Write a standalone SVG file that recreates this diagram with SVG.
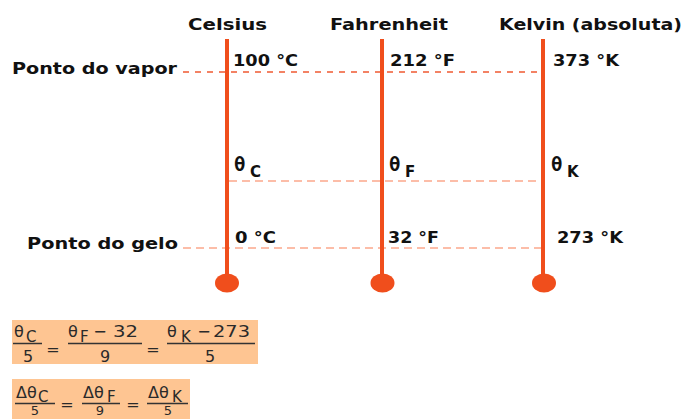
<svg xmlns="http://www.w3.org/2000/svg" width="685" height="419" viewBox="0 0 685 419">
<style>
.lbl{font-family:"DejaVu Sans","Verdana",sans-serif;font-weight:bold;font-size:15px;fill:#111;}
.th{font-family:"DejaVu Sans Mono",monospace;font-weight:bold;font-size:19px;fill:#111;}
.sub{font-family:"DejaVu Sans",sans-serif;font-weight:bold;font-size:15px;fill:#111;}
.f{font-family:"DejaVu Sans",sans-serif;font-size:16px;fill:#2a2a2a;}
.fs{font-family:"DejaVu Sans",sans-serif;font-size:15px;fill:#2a2a2a;}
.fd{font-family:"DejaVu Sans",sans-serif;font-size:13px;fill:#2a2a2a;}
.tube{stroke:#f04e1c;stroke-width:4;fill:none;}
.bulb{fill:#f04e1c;}
.d1{stroke:#ef5a32;stroke-width:1.5;stroke-dasharray:6 6;fill:none;}
.d2{stroke:#fba88c;stroke-width:1.5;stroke-dasharray:8 5;fill:none;}
.fl{stroke:#333;stroke-width:1.5;}
.box{fill:#fec592;}
</style>
<rect width="685" height="419" fill="#fff"/>
<g id="connectors">
<line class="d1" x1="183" y1="72" x2="543" y2="72"/>
<line class="d2" x1="229" y1="181" x2="543" y2="181"/>
<line class="d2" x1="183" y1="248" x2="543" y2="248"/>
</g>
<g id="celsius">
<line class="tube" x1="227" y1="39" x2="227" y2="280"/>
<ellipse class="bulb" cx="227" cy="283" rx="12" ry="9.5"/>
<text class="lbl" x="188" y="30" textLength="79" lengthAdjust="spacingAndGlyphs">Celsius</text>
<text class="lbl" x="233" y="66" textLength="65" lengthAdjust="spacingAndGlyphs">100 °C</text>
<text class="th" x="234" y="171">θ</text><text class="sub" x="250" y="177">C</text>
<text class="lbl" x="235" y="243" textLength="41" lengthAdjust="spacingAndGlyphs">0 °C</text>
</g>
<g id="fahrenheit">
<line class="tube" x1="382" y1="39" x2="382" y2="280"/>
<ellipse class="bulb" cx="382.5" cy="283" rx="12" ry="9.5"/>
<text class="lbl" x="330" y="30" textLength="118" lengthAdjust="spacingAndGlyphs">Fahrenheit</text>
<text class="lbl" x="390" y="66" textLength="65" lengthAdjust="spacingAndGlyphs">212 °F</text>
<text class="th" x="389" y="171">θ</text><text class="sub" x="405" y="177">F</text>
<text class="lbl" x="388" y="243" textLength="51" lengthAdjust="spacingAndGlyphs">32 °F</text>
</g>
<g id="kelvin">
<line class="tube" x1="543" y1="39" x2="543" y2="280"/>
<ellipse class="bulb" cx="544" cy="283" rx="12" ry="9.5"/>
<text class="lbl" x="499" y="30" textLength="183" lengthAdjust="spacingAndGlyphs">Kelvin (absoluta)</text>
<text class="lbl" x="553" y="66" textLength="66" lengthAdjust="spacingAndGlyphs">373 °K</text>
<text class="th" x="551" y="171">θ</text><text class="sub" x="567" y="177">K</text>
<text class="lbl" x="557" y="243" textLength="66" lengthAdjust="spacingAndGlyphs">273 °K</text>
</g>
<g id="vapor">
<text class="lbl" x="12" y="74" textLength="165" lengthAdjust="spacingAndGlyphs">Ponto do vapor</text>
</g>
<g id="gelo">
<text class="lbl" x="27" y="249" textLength="151" lengthAdjust="spacingAndGlyphs">Ponto do gelo</text>
</g>
<g id="formula1">
<rect class="box" x="12" y="320" width="246" height="44"/>
<text class="f" x="14" y="337">θ</text><text class="fs" x="26" y="342">C</text>
<line class="fl" x1="13" y1="343.5" x2="42" y2="343.5"/>
<text class="f" x="28" y="362" text-anchor="middle">5</text>
<text class="f" x="53" y="355" text-anchor="middle">=</text>
<text class="f" x="68" y="337">θ</text><text class="fs" x="80" y="342">F</text>
<text class="f" x="100" y="337" text-anchor="middle">−</text>
<text class="f" x="113" y="337" textLength="25" lengthAdjust="spacingAndGlyphs">32</text>
<line class="fl" x1="68" y1="343.5" x2="142" y2="343.5"/>
<text class="f" x="105" y="362" text-anchor="middle">9</text>
<text class="f" x="153" y="355" text-anchor="middle">=</text>
<text class="f" x="167" y="337">θ</text><text class="fs" x="181" y="342">K</text>
<text class="f" x="204" y="337" text-anchor="middle">−</text>
<text class="f" x="213" y="337" textLength="37" lengthAdjust="spacingAndGlyphs">273</text>
<line class="fl" x1="167" y1="343.5" x2="255" y2="343.5"/>
<text class="f" x="210" y="362" text-anchor="middle">5</text>
</g>
<g id="formula2">
<rect class="box" x="12" y="379" width="178" height="40"/>
<text class="f" x="16" y="398">Δθ</text><text class="fs" x="38" y="402">C</text>
<line class="fl" x1="15" y1="403.5" x2="55" y2="403.5"/>
<text class="fd" x="35" y="415" text-anchor="middle">5</text>
<text class="f" x="67" y="410" text-anchor="middle">=</text>
<text class="f" x="83" y="398">Δθ</text><text class="fs" x="107" y="402">F</text>
<line class="fl" x1="82" y1="403.5" x2="120" y2="403.5"/>
<text class="fd" x="100" y="415" text-anchor="middle">9</text>
<text class="f" x="133" y="410" text-anchor="middle">=</text>
<text class="f" x="148" y="398">Δθ</text><text class="fs" x="172" y="402">K</text>
<line class="fl" x1="147" y1="403.5" x2="188" y2="403.5"/>
<text class="fd" x="168" y="415" text-anchor="middle">5</text>
</g>
</svg>
